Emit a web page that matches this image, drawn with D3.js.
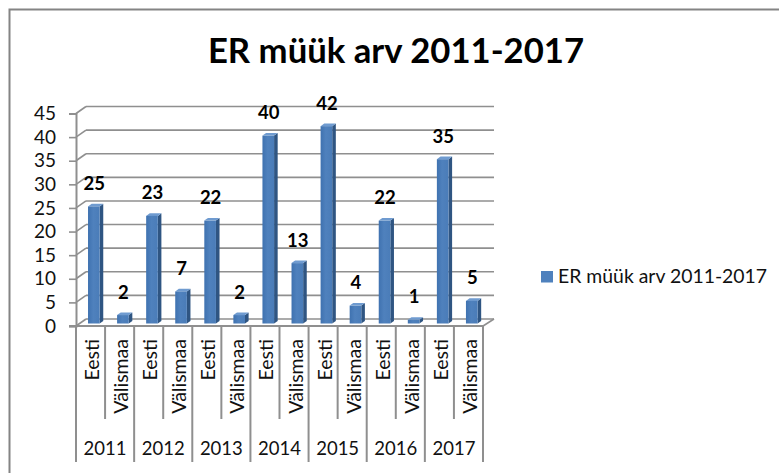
<!DOCTYPE html>
<html>
<head>
<meta charset="utf-8">
<script src="https://cdn.jsdelivr.net/npm/d3@7"></script>
<style>
    html, body { margin: 0; padding: 0; background: #fff; }
    svg { display: block; }
    text { font-family: Lato, "Open Sans", sans-serif; fill: #111; }
</style>
</head>
<body>
<svg id="drawing_region"></svg>
<script>
// Data
const title = "ER müük arv 2011-2017";
const years = ["2011", "2012", "2013", "2014", "2015", "2016", "2017"];
const regions = ["Eesti", "Välismaa"];
const values = [25, 2, 23, 7, 22, 2, 40, 13, 42, 4, 22, 1, 35, 5];
const yTicks = [0, 5, 10, 15, 20, 25, 30, 35, 40, 45];

const data = values.map((v, i) => ({
    key: i,
    year: years[Math.floor(i / 2)],
    region: regions[i % 2],
    value: v
}));

const config = {
    parent: '#drawing_region',
    width: 779,
    height: 473,
    left: 76,
    right: 483,
    base: 326,
    top: 113.5,
    depthX: 10,
    depthY: 7,
    grid: '#8f8f8f'
};

const svg = d3.select(config.parent)
    .attr('width', config.width)
    .attr('height', config.height);

const defs = svg.append('defs');
const grad = defs.append('linearGradient').attr('id', 'barfront');
grad.append('stop').attr('offset', '0%').attr('stop-color', '#3f72b0');
grad.append('stop').attr('offset', '45%').attr('stop-color', '#4f81bd');
grad.append('stop').attr('offset', '100%').attr('stop-color', '#4a7cb8');

// Scales
const y = d3.scaleLinear().domain([0, 45]).range([config.base, config.top]);
const x = d3.scaleBand().domain(data.map(d => d.key)).range([config.left, config.right]);
const xYear = d3.scaleBand().domain(years).range([config.left, config.right]);
// bars sit a little behind the front edge of the floor
const xBar = d3.scaleBand().domain(data.map(d => d.key))
    .range([config.left + 3.3, config.right + 3.3])
    .paddingInner(0.6)
    .paddingOuter(0.3);

// Outer frame, open at the right and bottom
svg.append('path')
    .attr('d', `M9.5,473V9.5H779`)
    .attr('fill', 'none')
    .attr('stroke', '#848484')
    .attr('stroke-width', 2);

// Title
svg.append('text')
    .attr('x', 396)
    .attr('y', 63)
    .attr('text-anchor', 'middle')
    .attr('font-size', '34.7px')
    .attr('font-weight', 'bold')
    .style('fill', '#000')
    .text(title);

// Back wall grid lines and the side wall diagonals
const gridG = svg.append('g')
    .attr('stroke', config.grid)
    .attr('stroke-width', 1.6)
    .attr('fill', 'none');

gridG.selectAll('line.back')
    .data(yTicks)
    .join('line')
    .attr('class', 'back')
    .attr('x1', config.left + config.depthX)
    .attr('x2', config.right + config.depthX + 1)
    .attr('y1', d => y(d) - config.depthY)
    .attr('y2', d => y(d) - config.depthY);

gridG.selectAll('line.side')
    .data(yTicks)
    .join('line')
    .attr('class', 'side')
    .attr('x1', config.left)
    .attr('x2', config.left + config.depthX)
    .attr('y1', d => y(d))
    .attr('y2', d => y(d) - config.depthY);

gridG.append('line')
    .attr('x1', config.right)
    .attr('x2', config.right + config.depthX + 1)
    .attr('y1', config.base)
    .attr('y2', config.base - config.depthY);

// Y axis
const yAxis = d3.axisLeft(y).tickValues(yTicks).tickSize(7).tickPadding(13);
const yG = svg.append('g')
    .attr('transform', `translate(${config.left}, 0)`)
    .call(yAxis);
yG.selectAll('.domain').attr('stroke', config.grid).attr('stroke-width', 2);
yG.selectAll('.tick line').attr('stroke', config.grid).attr('stroke-width', 1.6);
yG.selectAll('text')
    .attr('font-size', '19px')
    .style('font-family', 'Lato, sans-serif')
    .style('fill', '#111');

// Bars: side, top, then front
const bw = xBar.bandwidth();
const barDx = 3.6, barDy = 2.6;
const barTop = v => y(v) - 1.5;
const barBase = config.base - 2.5;
const bars = svg.append('g').selectAll('g')
    .data(data)
    .join('g');

bars.append('path')
    .attr('fill', '#2f5582')
    .attr('d', d => {
        const x1 = xBar(d.key) + bw, top = barTop(d.value);
        return `M${x1},${top}L${x1 + barDx},${top - barDy}V${barBase - barDy}L${x1},${barBase}Z`;
    });

bars.append('path')
    .attr('fill', '#6f9bd0')
    .attr('d', d => {
        const x0 = xBar(d.key), top = barTop(d.value);
        return `M${x0},${top}L${x0 + barDx},${top - barDy}H${x0 + bw + barDx}L${x0 + bw},${top}Z`;
    });

bars.append('rect')
    .attr('fill', 'url(#barfront)')
    .attr('x', d => xBar(d.key))
    .attr('y', d => barTop(d.value))
    .attr('width', bw)
    .attr('height', d => barBase - barTop(d.value));

// Data labels
svg.append('g').selectAll('text')
    .data(data)
    .join('text')
    .attr('x', d => xBar(d.key) + bw / 2 + 0.5)
    .attr('y', d => y(d.value) - 18)
    .attr('text-anchor', 'middle')
    .attr('font-size', '18.5px')
    .attr('font-weight', 'bold')
    .style('fill', '#000')
    .text(d => d.value);

// Category axis: floor edge, separators, rotated labels
const catG = svg.append('g')
    .attr('stroke', config.grid)
    .attr('stroke-width', 2);

catG.append('line')
    .attr('x1', config.left - 7)
    .attr('x2', config.right)
    .attr('y1', config.base)
    .attr('y2', config.base);

catG.selectAll('line.inner')
    .data(data.filter(d => d.key % 2 === 1))
    .join('line')
    .attr('class', 'inner')
    .attr('x1', d => x(d.key))
    .attr('x2', d => x(d.key))
    .attr('y1', config.base)
    .attr('y2', 419);

catG.selectAll('line.year')
    .data(years.concat(['end']))
    .join('line')
    .attr('class', 'year')
    .attr('x1', d => d === 'end' ? config.right : xYear(d))
    .attr('x2', d => d === 'end' ? config.right : xYear(d))
    .attr('y1', config.base)
    .attr('y2', 462);

svg.append('g').selectAll('text')
    .data(data)
    .join('text')
    .attr('transform', d => `translate(${x(d.key) + x.bandwidth() / 2 + 8.5}, 339) rotate(-90)`)
    .attr('text-anchor', 'end')
    .attr('font-size', '19.5px')
    .text(d => d.region);

svg.append('g').selectAll('text')
    .data(years)
    .join('text')
    .attr('x', d => xYear(d) + xYear.bandwidth() / 2)
    .attr('y', 455)
    .attr('text-anchor', 'middle')
    .attr('font-size', '18.5px')
    .text(d => d);

// Legend
svg.append('rect')
    .attr('x', 541)
    .attr('y', 271)
    .attr('width', 12)
    .attr('height', 11.5)
    .attr('fill', '#4f81bd');

svg.append('text')
    .attr('x', 558)
    .attr('y', 282.5)
    .attr('font-size', '19.4px')
    .text(title);
</script>
</body>
</html>
